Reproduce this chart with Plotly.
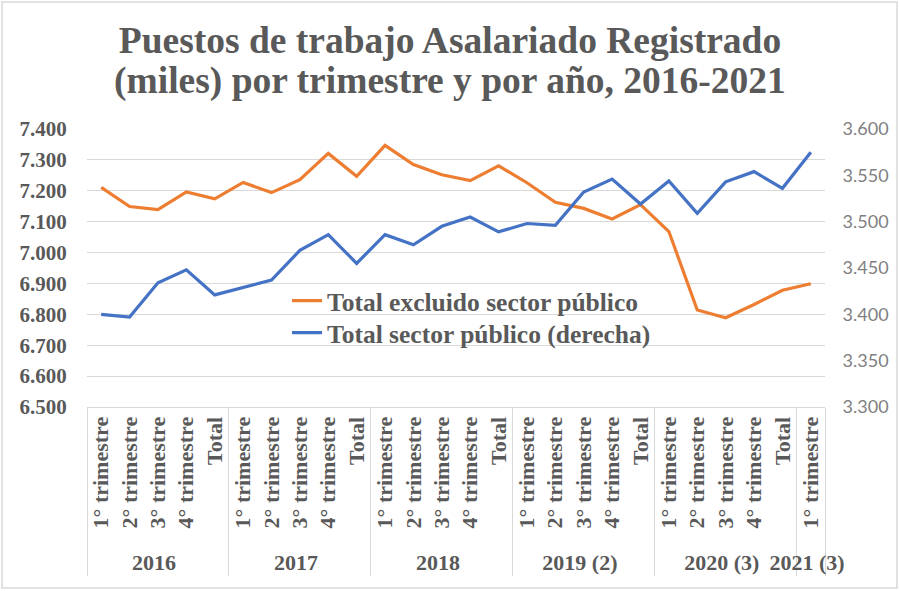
import plotly.graph_objects as go

years = ["2016"] * 5 + ["2017"] * 5 + ["2018"] * 5 + ["2019 (2)"] * 5 + ["2020 (3)"] * 5 + ["2021 (3)"]
periods = (["1° trimestre", "2° trimestre", "3° trimestre", "4° trimestre", "Total"] * 5) + ["1° trimestre"]

total_excluido = [7211, 7149, 7139, 7196, 7174, 7227, 7194, 7236, 7321, 7247, 7347, 7285, 7252,
                  7233, 7281, 7226, 7163, 7143, 7109, 7155, 7068, 6814, 6789, 6832, 6878, 6899]
sector_publico = [3400, 3397, 3434, 3448, 3421, 3429, 3437, 3469, 3486, 3455, 3486, 3475, 3495,
                  3505, 3489, 3498, 3496, 3532, 3546, 3519, 3544, 3509, 3543, 3554, 3536, 3575]

left_ticks = list(range(6500, 7401, 100))
right_ticks = list(range(3300, 3601, 50))

title_line1 = "Puestos de trabajo Asalariado Registrado"
title_line2 = "(miles) por trimestre y por año, 2016-2021"

serif = "Liberation Serif"
grey = "#595959"
lightgrid = "#d9d9d9"

fig = go.Figure()
fig.add_trace(go.Scatter(
    x=[years, periods], y=total_excluido, name="Total excluido sector público",
    mode="lines", line=dict(color="#ED7D31", width=3.2), legend="legend", showlegend=True))
fig.add_trace(go.Scatter(
    x=[years, periods], y=sector_publico, name="Total sector público (derecha)",
    mode="lines", line=dict(color="#4472C4", width=3.2), yaxis="y2", legend="legend2",
    showlegend=True))

W, H = 900, 591
L, R, T, B = 87, 825, 129, 407
pw, ph = R - L, B - T


def py(pix):
    """pixel row -> paper y"""
    return (B - pix) / ph


def px(pix):
    return (pix - L) / pw


title_font = dict(family=serif, size=37.5, color=grey, weight="bold")
legend_font = dict(family=serif, size=25.5, color=grey, weight="bold")
n_cat = len(periods)

fig.update_layout(
    width=W, height=H, showlegend=True,
    margin=dict(l=L, r=W - R, t=T, b=H - B, autoexpand=False),
    paper_bgcolor="white", plot_bgcolor="white",
    separators=",.",
    title=dict(
        text=title_line1,
        x=0.5, xref="container", xanchor="center",
        y=1 - 53 / H, yref="container", yanchor="bottom",
        font=title_font),
    annotations=[dict(text=title_line2, xref="paper", yref="paper",
                      x=px(W / 2), y=py(104), xanchor="center", yanchor="bottom",
                      showarrow=False, font=title_font)],
    xaxis=dict(
        type="multicategory", tickangle=-90, range=[-0.5, n_cat - 0.5],
        tickfont=dict(family=serif, size=22, color=grey, weight="bold"),
        showgrid=False, showline=True, linecolor=lightgrid, linewidth=1,
        showdividers=True, dividercolor=lightgrid, dividerwidth=1,
        ticks="", mirror=False),
    yaxis=dict(
        range=[6500, 7400], tickvals=left_ticks, tickformat=",.0f",
        showgrid=True, gridcolor=lightgrid, gridwidth=1,
        zeroline=False, showline=False,
        ticks="outside", ticklen=15, tickcolor="rgba(0,0,0,0)",
        tickfont=dict(family=serif, size=21, color=grey, weight="bold")),
    yaxis2=dict(
        range=[3300, 3600], tickvals=right_ticks, tickformat=",.0f",
        overlaying="y", side="right", showgrid=False, zeroline=False, showline=False,
        ticks="outside", ticklen=13, tickcolor="rgba(0,0,0,0)",
        tickfont=dict(family="Lato", size=18, color="#7f7f7f")),
    legend=dict(
        visible=True,
        x=px(287), y=py(301), xanchor="left", yanchor="middle",
        bgcolor="rgba(0,0,0,0)", font=legend_font),
    legend2=dict(
        visible=True,
        x=px(287), y=py(333), xanchor="left", yanchor="middle",
        bgcolor="rgba(0,0,0,0)", font=legend_font),
    shapes=[
        dict(type="rect", xref="paper", yref="paper",
             x0=px(2), x1=px(897), y0=py(588), y1=py(2),
             line=dict(color=lightgrid, width=1.5), fillcolor="rgba(0,0,0,0)", layer="below"),
    ],
)

fig.write_html("out.html", config={"displayModeBar": False},
               post_script="document.body.style.margin='0';")
